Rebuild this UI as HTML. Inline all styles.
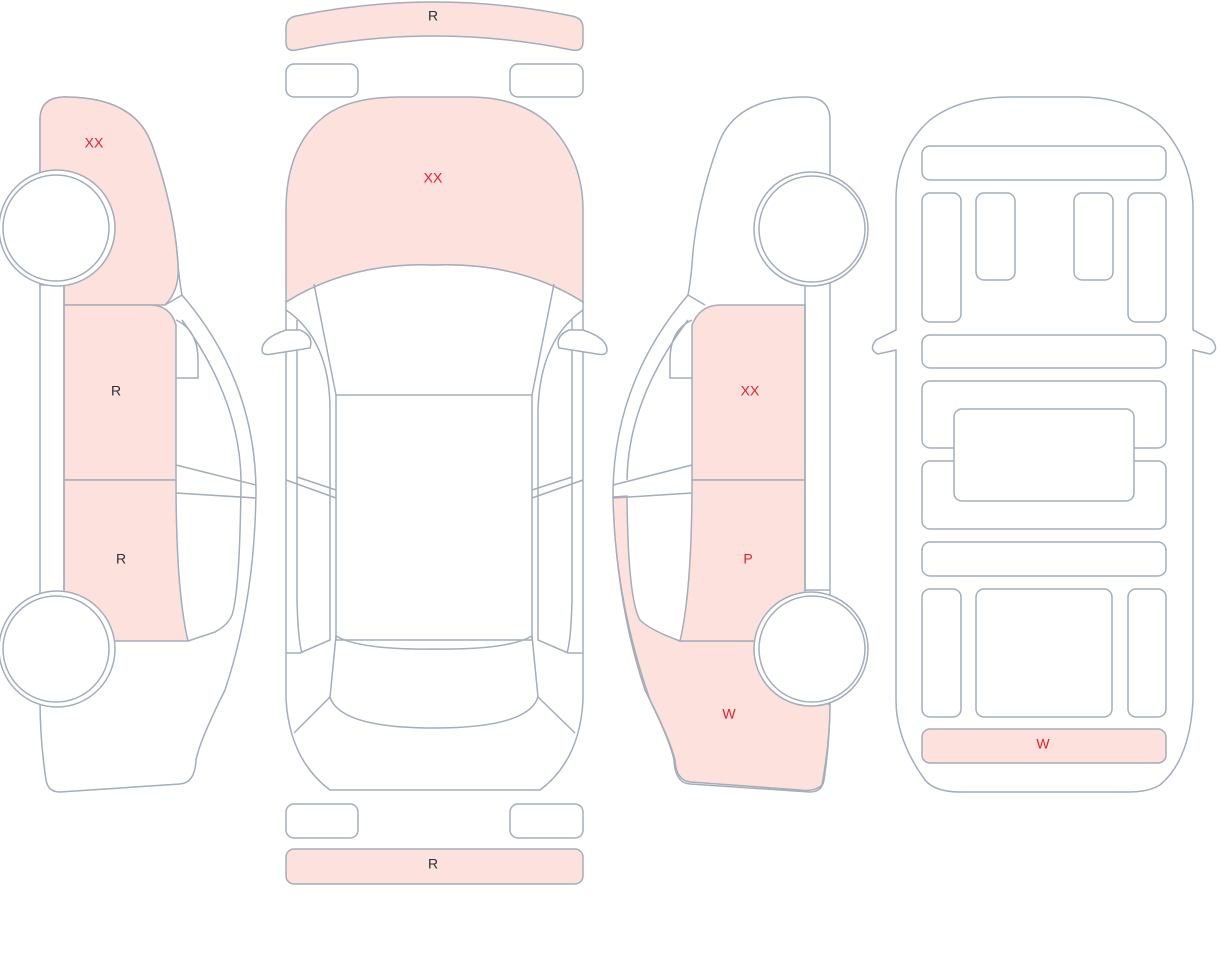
<!DOCTYPE html>
<html><head><meta charset="utf-8"><style>
html,body{margin:0;padding:0;background:#fff;width:1220px;height:967px;overflow:hidden}
svg{display:block}
text{font-family:"Liberation Sans",sans-serif;font-size:14px;text-anchor:middle;dominant-baseline:middle}
.s{fill:#fff;stroke:#a3adbb;stroke-width:1.5}
.p{fill:#fde1dd;stroke:#a3adbb;stroke-width:1.5}
.n{fill:none;stroke:#a3adbb;stroke-width:1.5}
.r{fill:#e8202a}.k{fill:#2a2f3a}
</style></head><body>
<svg width="1220" height="967" viewBox="0 0 1220 967">
<!-- LEFT SIDE VIEW -->
<path class="s" d="M182,295 Q255,380 256,490 Q255,600 225,690 Q200,740 196,760 Q195,783 180,784 L60,792 Q48,792 46,780 Q40,740 40,700 L40,120 Q40,97 65,97 Q135,97 152,145 Q175,210 178,265 Q180,285 182,295 Z"/>
<path class="p" d="M40,120 Q40,97 65,97 Q135,97 152,145 Q175,210 178,265 Q180,290 165,305 L64,305 L64,285 L40,285 Z"/>
<path class="n" d="M165,305 L182,295"/>
<path class="p" d="M64,305 L150,305 Q170,305 176,325 L176,480 L64,480 Z"/>
<path class="p" d="M64,480 L176,480 Q176,590 188,641 L64,641 Z"/>
<path class="n" d="M176,320 Q198,330 198,360 L198,378 L176,378 M176,465 L256,485 M176,493 L256,498 M182,320 Q240,400 241,480 Q240,590 232,615 Q228,625 215,632 L188,641 M64,285 L64,590"/>
<circle class="s" cx="57" cy="228" r="58"/><circle class="s" cx="56" cy="228" r="53"/>
<circle class="s" cx="57" cy="649" r="58"/><circle class="s" cx="56" cy="649" r="53"/>
<text x="94" y="144" class="r">XX</text>
<text x="116" y="392" class="k">R</text>
<text x="121" y="560" class="k">R</text>

<!-- MIDDLE TOP VIEW -->
<path class="p" d="M286,28 Q286,18 296,16 Q365,2 434,2 Q503,2 572,16 Q583,18 583,28 L583,42 Q583,52 572,50 Q503,36 434,36 Q365,36 296,50 Q286,52 286,42 Z"/>
<rect class="s" x="286" y="64" width="72" height="33" rx="8"/>
<rect class="s" x="510" y="64" width="73" height="33" rx="8"/>
<path class="s" d="M286,302 L286,700 Q290,760 330,790 L540,790 Q580,760 583,700 L583,302 Q520,262 434,265 Q350,262 286,302 Z"/>
<path class="p" d="M286,302 L286,210 Q286,150 320,120 Q345,97 400,97 L470,97 Q520,97 550,125 Q583,160 583,210 L583,302 Q520,262 434,265 Q350,262 286,302 Z"/>
<rect class="n" x="336" y="395" width="196" height="245"/>
<path class="n" d="M314,284 L336,395 M554,284 L532,395 M286,310 Q330,340 330,410 L330,640 L300,653 L286,653 M583,310 Q540,340 538,410 L538,640 L568,653 L583,653 M297,320 L297,600 Q298,640 302,653 M572,320 L572,600 Q571,640 567,653 M286,480 L336,498 M297,477 L336,490 M583,480 L532,498 M572,477 L532,490 M336,636 Q360,650 434,649 Q508,650 532,636 M336,636 L330,697 Q340,728 434,728 Q528,728 538,697 L532,636 M330,697 L294,733 M538,697 L575,733"/>
<path class="s" d="M286,330 Q262,338 262,350 Q262,356 272,354 L310,348 Q314,336 300,330 Z"/>
<path class="s" d="M583,330 Q607,338 607,350 Q607,356 597,354 L559,348 Q555,336 569,330 Z"/>
<rect class="s" x="286" y="804" width="72" height="34" rx="8"/>
<rect class="s" x="510" y="804" width="73" height="34" rx="8"/>
<rect class="p" x="286" y="849" width="297" height="35" rx="8"/>
<text x="433" y="17" class="k">R</text>
<text x="433" y="179" class="r">XX</text>
<text x="433" y="865" class="k">R</text>

<!-- RIGHT SIDE VIEW -->
<path class="s" d="M688,295 Q615,380 613,490 Q615,600 645,690 Q670,740 674,760 Q675,783 690,784 L810,792 Q822,792 824,780 Q830,740 830,700 L830,120 Q830,97 805,97 Q735,97 718,145 Q695,210 692,265 Q690,285 688,295 Z"/>
<path class="p" d="M613,497 L627,496 Q628,600 640,620 Q650,630 680,641 L805,641 L805,690 L830,705 Q830,740 822,785 Q815,792 800,790 L690,782 Q676,780 675,760 Q670,740 650,700 Q615,600 613,497 Z"/>
<path class="p" d="M692,325 Q700,305 720,305 L805,305 L805,480 L692,480 Z"/>
<path class="p" d="M692,480 L805,480 L805,641 L680,641 Q692,590 692,480 Z"/>
<path class="n" d="M688,295 L705,305 M692,320 Q670,330 670,360 L670,378 L692,378 M692,465 L613,485 M692,493 L613,498 M688,320 Q628,400 627,480 M805,285 L805,590 L830,590"/>
<circle class="s" cx="811" cy="229" r="57"/><circle class="s" cx="812" cy="229" r="53"/>
<circle class="s" cx="811" cy="649" r="57"/><circle class="s" cx="812" cy="649" r="53"/>
<text x="750" y="392" class="r">XX</text>
<text x="748" y="560" class="r">P</text>
<text x="729" y="715" class="r">W</text>

<!-- FAR RIGHT VIEW -->
<path class="s" d="M896,330 L896,200 Q896,150 930,120 Q960,97 1010,97 L1080,97 Q1130,97 1160,125 Q1193,160 1193,210 L1193,330 L1212,340 Q1220,350 1210,354 L1193,350 L1193,700 Q1190,760 1160,785 Q1148,792 1130,792 L960,792 Q935,792 925,780 Q896,740 896,700 L896,350 L878,354 Q868,350 876,340 Z"/>
<rect class="s" x="922" y="146" width="244" height="34" rx="8"/>
<rect class="s" x="922" y="193" width="39" height="129" rx="8"/>
<rect class="s" x="976" y="193" width="39" height="87" rx="8"/>
<rect class="s" x="1074" y="193" width="39" height="87" rx="8"/>
<rect class="s" x="1128" y="193" width="38" height="129" rx="8"/>
<rect class="s" x="922" y="335" width="244" height="33" rx="8"/>
<rect class="s" x="922" y="381" width="244" height="67" rx="8"/>
<rect class="s" x="922" y="461" width="244" height="68" rx="8"/>
<rect class="s" x="954" y="409" width="180" height="92" rx="8"/>
<rect class="s" x="922" y="542" width="244" height="34" rx="8"/>
<rect class="s" x="922" y="589" width="39" height="128" rx="8"/>
<rect class="s" x="976" y="589" width="136" height="128" rx="8"/>
<rect class="s" x="1128" y="589" width="38" height="128" rx="8"/>
<rect class="p" x="922" y="729" width="244" height="34" rx="8"/>
<text x="1043" y="745" class="r">W</text>
</svg>
</body></html>
